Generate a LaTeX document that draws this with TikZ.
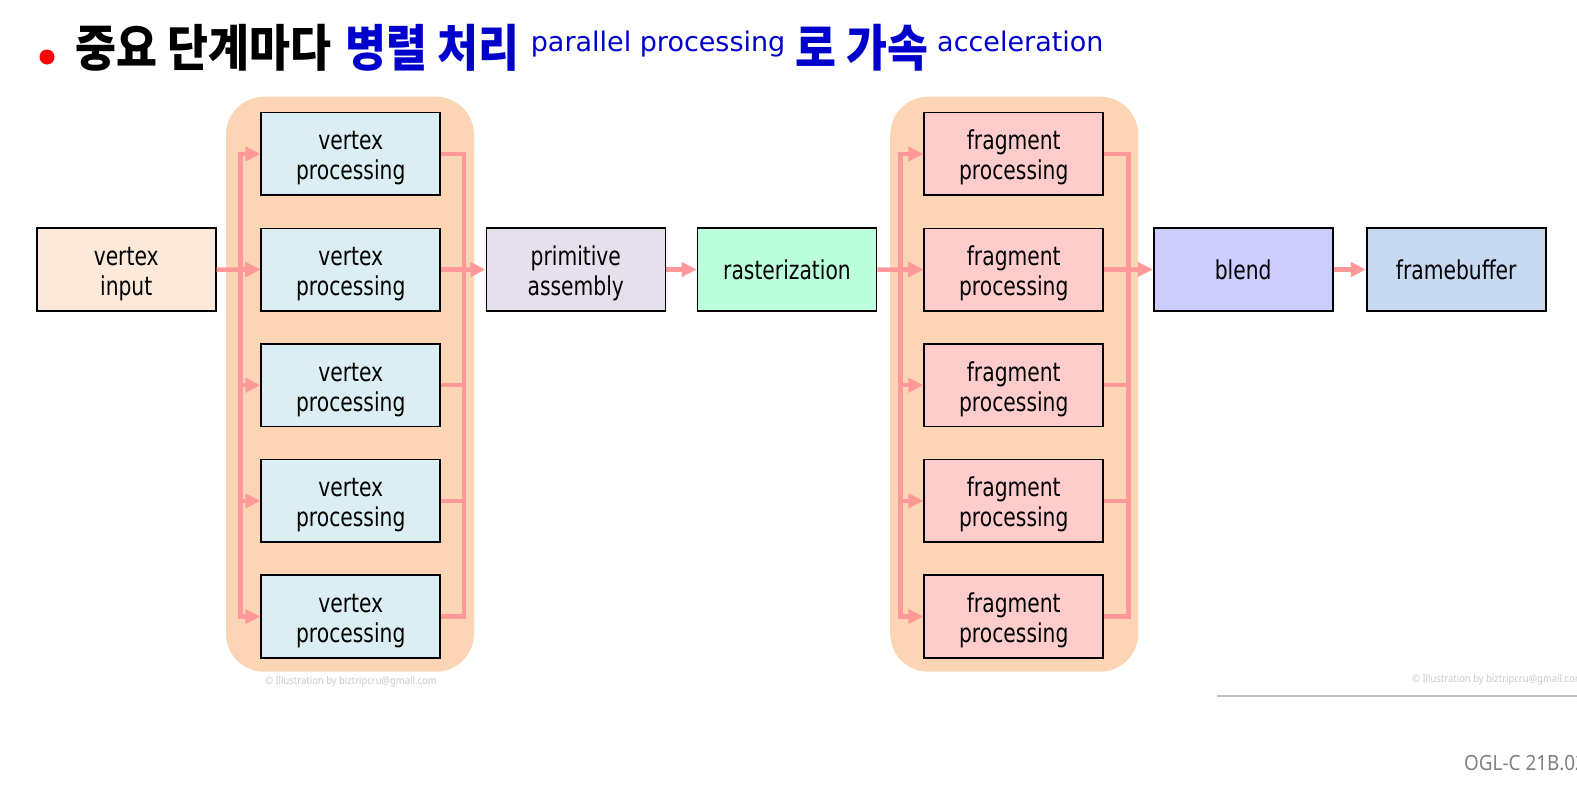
\documentclass[tikz,border=0pt]{standalone}
\usepackage{fontspec}
\usetikzlibrary{arrows.meta}

% fonts
\newfontfamily\labfont[FakeStretch=0.78]{DejaVu Sans}
\newfontfamily\titlefont{DejaVu Sans}
\newfontfamily\korfont[FakeStretch=0.89]{Noto Sans CJK KR}
\newfontfamily\notefont[FakeStretch=0.9]{Noto Sans}

% extra head room on the first line of two-line labels
\newcommand\labstrut{\rule{0pt}{27pt}}

% palette
\definecolor{groupfill}{RGB}{252,213,180}
\definecolor{inputfill}{RGB}{253,233,217}
\definecolor{vertfill}{RGB}{218,238,243}
\definecolor{primfill}{RGB}{229,224,236}
\definecolor{rastfill}{RGB}{187,255,221}
\definecolor{fragfill}{RGB}{255,204,204}
\definecolor{blendfill}{RGB}{204,204,255}
\definecolor{fbfill}{RGB}{198,217,241}
\definecolor{pipecol}{RGB}{255,153,153}
\definecolor{headblue}{RGB}{0,0,204}
\definecolor{markgray}{RGB}{200,200,200}
\definecolor{rulegray}{RGB}{192,192,192}
\definecolor{footgray}{RGB}{128,128,128}

\tikzset{
  stagebox/.style={draw=black, line width=1.6pt, minimum width=179pt,
    minimum height=82.5pt, inner sep=0pt, align=center, text=black,
    font=\labfont\fontsize{26}{30}\selectfont},
  group/.style={fill=groupfill, rounded corners=38pt, minimum width=248pt,
    minimum height=575pt, inner sep=0pt},
  pipe/.style={draw=pipecol, line width=4.5pt},
  bus/.style={pipe, line cap=rect},
  arr/.style={pipe, -{Triangle[length=15pt,width=14pt]}},
  korhead/.style={anchor=base west, inner sep=0pt,
    font=\korfont\bfseries\fontsize{50}{50}\selectfont},
  lathead/.style={anchor=base west, inner sep=0pt, text=headblue,
    font=\titlefont\fontsize{27}{27}\selectfont},
  credit/.style={anchor=west, inner sep=0pt, text=markgray,
    font=\notefont\fontsize{10.5}{10.5}\selectfont}
}

\begin{document}
\begin{tikzpicture}[x=1pt,y=-1pt]
\path[use as bounding box] (0,0) rectangle (1577,787);
\clip (0,0) rectangle (1577,787);

% headline
\fill[red] (47,57) circle (7.5pt);
\node[korhead, text=black] (h1) at (75,66) {중요 단계마다};
\node[korhead, text=headblue] (h2) at (345,66) {병렬 처리};
\node[lathead] (h3) at (530.6,51.5) {parallel processing};
\node[korhead, text=headblue] (h4) at (795,66) {로 가속};
\node[lathead] (h5) at (937,51.5) {acceleration};

% parallel groups
\node[group] (vgroup) at (350,384.2) {};
\node[group] (fgroup) at (1014.2,384.2) {};

% bus rails
\coordinate (vbusL) at (240.7,0);
\coordinate (vbusR) at (464,0);
\coordinate (fbusL) at (900.7,0);
\coordinate (fbusR) at (1128.3,0);

% stages
\node[stagebox, fill=inputfill] (vin) at (126.2,269.5) {\labstrut vertex\\input};
\foreach \i in {1,...,5} {
  \pgfmathsetmacro\yy{153.9+115.65*(\i-1)}
  \node[stagebox, fill=vertfill] (v\i) at (350.75,\yy) {\labstrut vertex\\processing};
  \node[stagebox, fill=fragfill] (f\i) at (1013.75,\yy) {\labstrut fragment\\processing};
  \coordinate (vl\i) at (v\i.west -| vbusL);
  \coordinate (vr\i) at (v\i.east -| vbusR);
  \coordinate (fl\i) at (f\i.west -| fbusL);
  \coordinate (fr\i) at (f\i.east -| fbusR);
}
\node[stagebox, fill=primfill] (prim) at (575.8,269.5) {\labstrut primitive\\assembly};
\node[stagebox, fill=rastfill] (rast) at (787,269.5) {rasterization};
\node[stagebox, fill=blendfill] (blend) at (1243.2,269.5) {blend};
\node[stagebox, fill=fbfill] (fb) at (1456.2,269.5) {framebuffer};

% fan-out and fan-in connectors
\draw[bus] (vl1) -- (vl5);
\draw[bus] (vr1) -- (vr5);
\draw[bus] (fl1) -- (fl5);
\draw[bus] (fr1) -- (fr5);
\foreach \i in {1,...,5} {
  \draw[arr] (vl\i) -- (v\i.west);
  \draw[pipe] (v\i.east) -- (vr\i);
  \draw[arr] (fl\i) -- (f\i.west);
  \draw[pipe] (f\i.east) -- (fr\i);
}
\draw[arr] (vin.east) -- (v2.west);
\draw[arr] (vr2) -- (prim.west);
\draw[arr] (prim.east) -- (rast.west);
\draw[arr] (rast.east) -- (f2.west);
\draw[arr] (fr2) -- (blend.west);
\draw[arr] (blend.east) -- (fb.west);

% credits and footer
\node[credit] (c1) at (265,681.5) {© Illustration by biztripcru@gmail.com};
\node[credit] (c2) at (1412,680) {© Illustration by biztripcru@gmail.com};
\coordinate (rulestart) at (1217,696);
\coordinate (ruleend) at (1580,696);
\draw[rulegray, line width=1.5pt] (rulestart) -- (ruleend);
\node[anchor=base west, inner sep=0pt, text=footgray,
  font=\notefont\fontsize{21}{21}\selectfont] (foot) at (1464,770) {OGL-C 21B.02};
\end{tikzpicture}
\end{document}
